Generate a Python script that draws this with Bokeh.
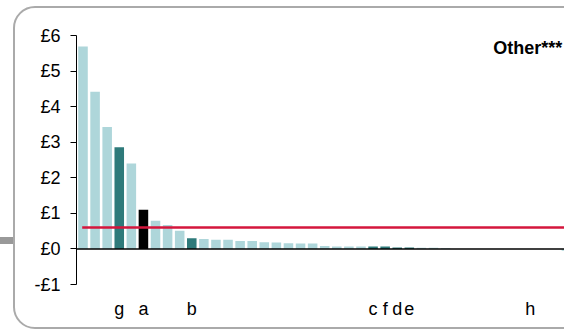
from bokeh.plotting import figure
from bokeh.models import FixedTicker, Span, ColumnDataSource, InlineStyleSheet
from bokeh.core.properties import value
from bokeh.embed import file_html
from bokeh.resources import INLINE

# ---- data ----
bar_values = [5.69, 4.42, 3.43, 2.86, 2.40, 1.10, 0.79, 0.67, 0.51, 0.30,
              0.28, 0.26, 0.26, 0.22, 0.22, 0.19, 0.18, 0.16, 0.15, 0.15,
              0.08, 0.07, 0.07, 0.07, 0.07, 0.07, 0.04, 0.04, 0.03, 0.03,
              0.02, 0.0, 0.0, 0.0, 0.0, 0.0, 0.0, 0.0, 0.0, 0.0,
              -0.05]
highlight = {4: "dark", 6: "black", 10: "dark", 25: "dark", 26: "dark", 27: "dark", 28: "dark"}
label_positions = [4, 6, 10, 25, 26, 27, 28, 38]
label_texts = ["g", "a", "b", "c", "f", "d", "e", "h"]
average_value = 0.6
other_label = "Other***"
other_position = 34.95
y_ticks = [-1, 0, 1, 2, 3, 4, 5, 6]
y_tick_labels = ["-£1", "£0", "£1", "£2", "£3", "£4", "£5", "£6"]

LIGHT = "#aed6da"
DARK = "#2e7a7a"
palette = {"dark": DARK, "black": "#000000"}

idx = list(range(1, len(bar_values) + 1))
colors = [palette.get(highlight.get(i, ""), LIGHT) for i in idx]
src = ColumnDataSource(dict(x=idx, top=bar_values, color=colors))

p = figure(width=564, height=331, x_range=(0.462, 40.84), y_range=(-1, 6),
           output_backend="svg", toolbar_location=None,
           min_border_left=76, min_border_right=0, min_border_top=35, min_border_bottom=47)
p.outline_line_color = None
p.xgrid.visible = False
p.ygrid.visible = False
p.background_fill_color = "white"
p.border_fill_color = "white"

p.vbar(x="x", top="top", width=0.79, fill_color="color", line_color=None, source=src)

p.add_layout(Span(location=0, dimension="width", line_color="black", line_width=1.5))
p.segment(x0=[0.934], y0=[average_value], x1=[41.5], y1=[average_value],
          line_color="#d4163c", line_width=2.5)

p.text(x=[other_position], y=[5.66], text=[other_label], text_font=value("Liberation Sans"),
       text_font_size="18px", text_font_style="bold", text_align="left",
       text_baseline="alphabetic", text_color="black")

# y axis
ya = p.yaxis[0]
ya.ticker = FixedTicker(ticks=y_ticks)
ya.major_label_overrides = {t: l for t, l in zip(y_ticks, y_tick_labels)}
ya.axis_line_color = "black"
ya.major_tick_line_color = "black"
ya.major_tick_out = 6
ya.major_tick_in = 0
ya.minor_tick_line_color = None
ya.major_label_standoff = 10
ya.major_label_text_font = "Liberation Sans"
ya.major_label_text_font_size = "18px"
ya.major_label_text_color = "black"

# x axis
xa = p.xaxis[0]
xa.ticker = FixedTicker(ticks=label_positions)
xa.major_label_overrides = {t: l for t, l in zip(label_positions, label_texts)}
xa.axis_line_color = None
xa.major_tick_line_color = None
xa.minor_tick_line_color = None
xa.major_tick_out = 0
xa.major_label_standoff = 14
xa.major_label_text_font = "Liberation Sans"
xa.major_label_text_font_size = "18px"
xa.major_label_text_color = "black"

# rounded panel border and left connector stub
p.stylesheets = [InlineStyleSheet(css="""
:host { position: relative; overflow: hidden; }
:host::after { content: ""; position: absolute; left: 13px; top: 6px; width: 700px; height: 323px;
  border: 2px solid #aaaaaa; border-radius: 22px; box-sizing: border-box; pointer-events: none; }
:host::before { content: ""; position: absolute; left: 0px; top: 237px; width: 13px; height: 7px;
  background: #999999; z-index: 1; }
""")]

open("out.html", "w").write(file_html(p, INLINE))
